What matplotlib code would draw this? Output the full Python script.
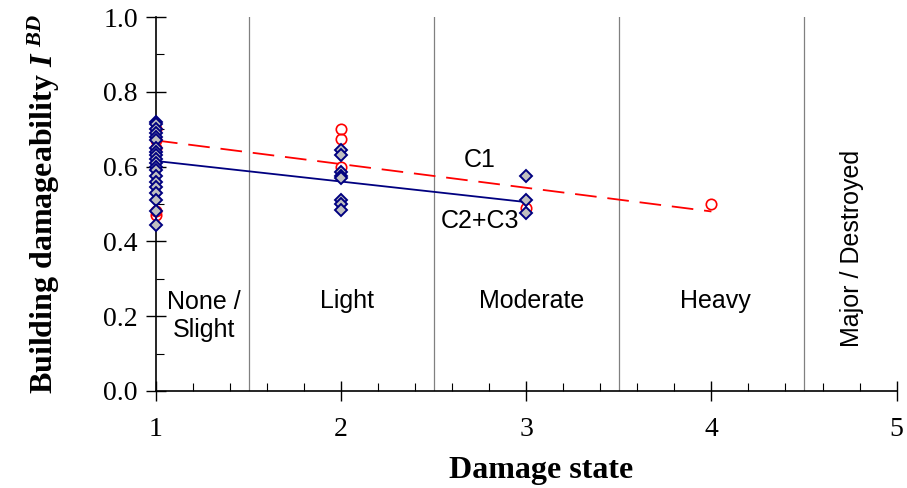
import numpy as np
import matplotlib
matplotlib.use('Agg')
import matplotlib.pyplot as plt
from matplotlib.ticker import MultipleLocator

plt.rcParams['font.family'] = 'Liberation Serif'
plt.rcParams['mathtext.fontset'] = 'custom'
plt.rcParams['mathtext.rm'] = 'Liberation Serif'
plt.rcParams['mathtext.it'] = 'Liberation Serif:italic:bold'
plt.rcParams['mathtext.bf'] = 'Liberation Serif:bold'

# C1 buildings (red circles) and C2+C3 buildings (blue diamonds)
c1_x = [1, 1, 1, 1, 1, 2, 2, 2, 3, 4]
c1_y = [0.70, 0.67, 0.65, 0.48, 0.47, 0.70, 0.675, 0.60, 0.49, 0.50]

c23_x = [1] * 20 + [2] * 8 + [3] * 3
c23_y = [0.72, 0.715, 0.70, 0.69, 0.68, 0.67, 0.65, 0.64, 0.63, 0.62,
         0.61, 0.60, 0.59, 0.575, 0.56, 0.545, 0.53, 0.51, 0.48, 0.445,
         0.645, 0.63, 0.585, 0.575, 0.57, 0.51, 0.50, 0.485,
         0.575, 0.51, 0.475]

# trend lines
c1_fit_x = [1, 4]
c1_fit_y = [0.67, 0.48]
c23_fit_x = [1, 3]
c23_fit_y = [0.615, 0.505]

bounds = [1.5, 2.5, 3.5, 4.5]
states = ['None /\nSlight', 'Light', 'Moderate', 'Heavy']
state_x = [1.26, 2.03, 3.03, 4.02]

fig = plt.figure(figsize=(9.07, 4.88), dpi=100)
ax = fig.add_axes([0.172, 0.199, 0.8165, 0.766])

for b in bounds:
    ax.plot([b, b], [0, 1], color='#808080', lw=0.9, zorder=1)

ax.plot(c1_fit_x, c1_fit_y, color='red', lw=1.3, ls=(0, (12, 6)), zorder=2)
ax.plot(c23_fit_x, c23_fit_y, color='#000080', lw=1.3, zorder=2)
ax.plot(c1_x, c1_y, ls='none', marker='o', ms=7.5, mfc='none', mec='red', mew=1.2,
        zorder=6, clip_on=False)
ax.plot(c23_x, c23_y, ls='none', marker='D', ms=6.5, mfc='#C0C0C0', mec='#000080', mew=1.4,
        zorder=7, clip_on=False)

sans = 'Liberation Sans'
for s, x in zip(states, state_x):
    ax.text(x, 0.20 if '\n' in s else 0.24, s, ha='center', va='center', fontsize=18,
            family=sans, linespacing=1.2)
ax.text(4.76, 0.38, 'Major / Destroyed', rotation=90, ha='center', va='center', fontsize=18, family=sans)
ax.text(2.75, 0.618, 'C1', ha='center', va='center', fontsize=18, family=sans)
ax.text(2.75, 0.455, 'C2+C3', ha='center', va='center', fontsize=18, family=sans)

ax.set_xlim(1, 5)
ax.set_ylim(0, 1)
ax.xaxis.set_major_locator(MultipleLocator(1))
ax.xaxis.set_minor_locator(MultipleLocator(0.2))
ax.yaxis.set_major_locator(MultipleLocator(0.2))
ax.yaxis.set_minor_locator(MultipleLocator(0.1))
ax.yaxis.set_major_formatter(matplotlib.ticker.FormatStrFormatter('%.1f'))
ax.tick_params(which='major', direction='inout', length=14, width=1, labelsize=20)
ax.tick_params(which='minor', direction='in', length=6, width=0.8)
ax.tick_params(axis='x', pad=12)
ax.tick_params(axis='y', pad=6)

for sp in ['top', 'right']:
    ax.spines[sp].set_visible(False)
for sp in ['left', 'bottom']:
    ax.spines[sp].set_linewidth(1.2)

ax.set_xlabel('Damage state', fontsize=23, fontweight='bold')
ax.xaxis.set_label_coords(0.52, -0.175)
ax.set_ylabel('Building damageability $\\mathit{I}^{\\ \\mathit{BD}}$', fontsize=23,
              fontweight='bold', labelpad=30)

fig.savefig('out.png', dpi=100)
